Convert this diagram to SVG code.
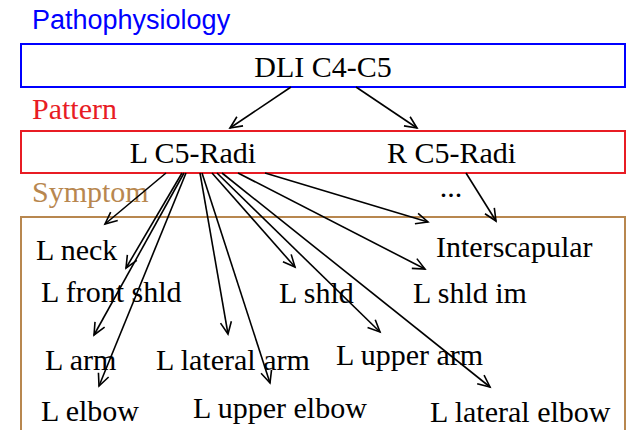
<svg xmlns="http://www.w3.org/2000/svg" width="626" height="430" viewBox="0 0 626 430">
<style>
.s{font-family:"Liberation Serif","Times New Roman",serif;font-size:30px;fill:#000}
.lbl{font-size:27px}
.c line{stroke:#000;stroke-width:1.6;marker-end:url(#ah)}
</style>
<defs>
<marker id="ah" markerUnits="userSpaceOnUse" markerWidth="16" markerHeight="14" refX="0" refY="0" viewBox="-13 -7 16 14" orient="auto" overflow="visible">
<path d="M-12,-5.5 L0,0 L-12,5.5" fill="none" stroke="#000" stroke-width="1.6"/>
</marker>
</defs>
<rect width="626" height="430" fill="#fff"/>
<g id="layer-labels">
<text x="32" y="29" font-family="Liberation Sans,Arial,sans-serif" font-size="27" fill="#0000ff">Pathophysiology</text>
<text x="32" y="119" class="s" style="fill:#e81c24">Pattern</text>
<text x="32" y="202" class="s" style="fill:#b8874f">Symptom</text>
</g>
<g id="dli">
<rect x="21" y="44" width="604" height="43" fill="none" stroke="#0000ff" stroke-width="2"/>
<text x="323" y="77" class="s" text-anchor="middle">DLI C4-C5</text>
</g>
<g id="pattern-box">
<rect x="21" y="131" width="604" height="42" fill="none" stroke="#e81c24" stroke-width="2"/>
</g>
<g id="l-c5-radi"><text x="193" y="163" class="s" text-anchor="middle">L C5-Radi</text></g>
<g id="r-c5-radi"><text x="451.5" y="163" class="s" text-anchor="middle">R C5-Radi</text></g>
<g id="ellipsis"><text x="451" y="197" class="s" text-anchor="middle">...</text></g>
<g id="symptom-box">
<rect x="21" y="217" width="604" height="260" fill="none" stroke="#b8874f" stroke-width="2"/>
</g>
<g id="l-neck"><text x="36" y="260" class="s">L neck</text></g>
<g id="l-front-shld"><text x="41" y="302" class="s">L front shld</text></g>
<g id="l-shld"><text x="279" y="303" class="s">L shld</text></g>
<g id="l-shld-im"><text x="413" y="303" class="s">L shld im</text></g>
<g id="interscapular"><text x="436" y="257" class="s">Interscapular</text></g>
<g id="l-arm"><text x="45" y="370" class="s">L arm</text></g>
<g id="l-lateral-arm"><text x="156" y="370" class="s">L lateral arm</text></g>
<g id="l-upper-arm"><text x="336" y="365" class="s">L upper arm</text></g>
<g id="l-elbow"><text x="41" y="421" class="s">L elbow</text></g>
<g id="l-upper-elbow"><text x="193" y="418" class="s">L upper elbow</text></g>
<g id="l-lateral-elbow"><text x="430" y="422" class="s">L lateral elbow</text></g>
<g id="connectors" class="c">
<line x1="291" y1="87" x2="230" y2="128"/>
<line x1="356" y1="87" x2="417" y2="128"/>
<line x1="166" y1="173" x2="105" y2="224"/>
<line x1="182" y1="173" x2="126" y2="268"/>
<line x1="184" y1="173" x2="94" y2="335"/>
<line x1="186" y1="173" x2="99" y2="386"/>
<line x1="200" y1="173" x2="228" y2="334"/>
<line x1="202" y1="173" x2="270" y2="383"/>
<line x1="212" y1="173" x2="295" y2="267"/>
<line x1="217" y1="173" x2="380" y2="332"/>
<line x1="222" y1="173" x2="490" y2="387"/>
<line x1="238" y1="173" x2="425" y2="269"/>
<line x1="265" y1="173" x2="428" y2="222"/>
<line x1="466" y1="173" x2="496" y2="221"/>
</g>
</svg>
